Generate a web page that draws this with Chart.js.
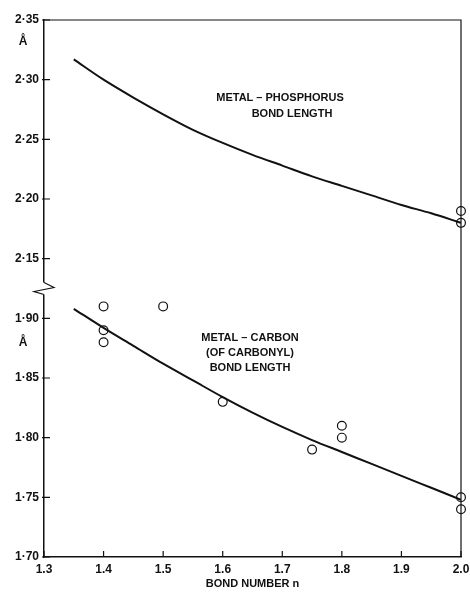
<!DOCTYPE html>
<html>
<head>
<meta charset="utf-8">
<script src="https://cdn.jsdelivr.net/npm/chart.js@4.4.1/dist/chart.umd.min.js"></script>
<style>
  html, body { margin: 0; padding: 0; background: #fff; }
  #wrap { width: 470px; height: 597px; position: relative; }
</style>
</head>
<body>
<div id="wrap"><canvas id="chart"></canvas></div>
<script>
// bond number n along the fitted curves
const curveN = [1.35, 1.4, 1.45, 1.5, 1.55, 1.6, 1.65, 1.7, 1.75, 1.8, 1.85, 1.9, 1.95, 2.0];
const phosphorusCurve = [2.317, 2.300, 2.285, 2.271, 2.258, 2.247, 2.237, 2.228, 2.219, 2.211, 2.203, 2.195, 2.188, 2.180];
const carbonCurve = [1.908, 1.892, 1.877, 1.862, 1.848, 1.834, 1.821, 1.809, 1.798, 1.788, 1.778, 1.768, 1.758, 1.748];

// observed bond lengths (open circles)
const phosphorusObsN = [2.0, 2.0];
const phosphorusObs = [2.19, 2.18];
const carbonObsN = [1.4, 1.4, 1.4, 1.5, 1.6, 1.75, 1.8, 1.8, 2.0, 2.0];
const carbonObs = [1.91, 1.89, 1.88, 1.91, 1.83, 1.79, 1.81, 1.80, 1.75, 1.74];

const xTicks = [1.3, 1.4, 1.5, 1.6, 1.7, 1.8, 1.9, 2.0];
const lowerYTicks = [1.70, 1.75, 1.80, 1.85, 1.90];
const upperYTicks = [2.15, 2.20, 2.25, 2.30, 2.35];

// the y axis is broken: upper panel values are shifted down by this amount
const BREAK_SHIFT = 0.20;
const BREAK_AT = 1.925;

const FONT = "'Liberation Sans', Arial, sans-serif";
const INK = "#111";

const toPts = (xs, ys, shift) => xs.map((x, i) => ({ x: x, y: ys[i] - shift }));

function yLabel(v) {
  const real = v > BREAK_AT ? v + BREAK_SHIFT : v;
  return real.toFixed(2).replace(".", "\u00b7");
}

const decor = {
  id: "decor",
  afterDraw(chart) {
    const { ctx, chartArea: a, scales } = chart;
    const xs = scales.x, ys = scales.y;
    ctx.save();
    ctx.strokeStyle = INK;
    ctx.lineWidth = 1.2;

    // top and right frame
    ctx.beginPath();
    ctx.moveTo(a.left, a.top);
    ctx.lineTo(a.right, a.top);
    ctx.lineTo(a.right, a.bottom);
    ctx.stroke();

    // inward ticks
    ctx.beginPath();
    xTicks.forEach((t) => {
      const px = xs.getPixelForValue(t);
      ctx.moveTo(px, a.bottom);
      ctx.lineTo(px, a.bottom - 6);
    });
    lowerYTicks.forEach((t) => {
      const py = ys.getPixelForValue(t);
      ctx.moveTo(a.left - 2, py);
      ctx.lineTo(a.left + 6, py);
    });
    upperYTicks.forEach((t) => {
      const py = ys.getPixelForValue(t - BREAK_SHIFT);
      ctx.moveTo(a.left - 2, py);
      ctx.lineTo(a.left + 6, py);
    });
    ctx.stroke();

    // axis break zigzag
    const by = ys.getPixelForValue(BREAK_AT);
    ctx.fillStyle = "#fff";
    ctx.fillRect(a.left - 3, by - 6, 6, 12);
    ctx.beginPath();
    ctx.moveTo(a.left, by - 6);
    ctx.lineTo(a.left + 10, by - 1);
    ctx.lineTo(a.left - 10, by + 3);
    ctx.lineTo(a.left, by + 6);
    ctx.stroke();

    // unit labels and panel annotations
    ctx.fillStyle = INK;
    ctx.textAlign = "center";
    ctx.textBaseline = "middle";
    ctx.font = "bold 12px " + FONT;
    ctx.fillText("\u00c5", 23, ys.getPixelForValue(upperYTicks[4] - BREAK_SHIFT) + 22);
    ctx.fillText("\u00c5", 23, ys.getPixelForValue(lowerYTicks[4]) + 24);

    ctx.font = "bold 11px " + FONT;
    ctx.fillText("METAL \u2013 PHOSPHORUS", 280, 98);
    ctx.fillText("BOND LENGTH", 292, 114);
    ctx.fillText("METAL \u2013 CARBON", 250, 338);
    ctx.fillText("(OF CARBONYL)", 250, 353);
    ctx.fillText("BOND LENGTH", 250, 368);
    ctx.restore();
  },
};

const circleStyle = {
  showLine: false,
  pointStyle: "circle",
  pointRadius: 4.4,
  pointHoverRadius: 4.4,
  pointBackgroundColor: "#fff",
  pointBorderColor: INK,
  pointBorderWidth: 1.2,
  clip: false,
};

const curveStyle = {
  showLine: true,
  borderColor: INK,
  borderWidth: 2,
  pointRadius: 0,
  cubicInterpolationMode: "monotone",
  fill: false,
};

new Chart(document.getElementById("chart"), {
  type: "scatter",
  data: {
    datasets: [
      { label: "Metal-phosphorus curve", data: toPts(curveN, phosphorusCurve, BREAK_SHIFT), ...curveStyle },
      { label: "Metal-carbon curve", data: toPts(curveN, carbonCurve, 0), ...curveStyle },
      { label: "Metal-phosphorus observed", data: toPts(phosphorusObsN, phosphorusObs, BREAK_SHIFT), ...circleStyle },
      { label: "Metal-carbon observed", data: toPts(carbonObsN, carbonObs, 0), ...circleStyle },
    ],
  },
  options: {
    responsive: true,
    maintainAspectRatio: false,
    animation: false,
    layout: { padding: { top: 20, right: 9, left: 0, bottom: 0 } },
    plugins: { legend: { display: false }, tooltip: { enabled: false } },
    scales: {
      x: {
        type: "linear",
        min: 1.3,
        max: 2.0,
        afterFit: (s) => { s.height = 40; s.paddingLeft = 0; s.paddingRight = 0; },
        afterBuildTicks: (s) => { s.ticks = xTicks.map((v) => ({ value: v })); },
        grid: { drawOnChartArea: false, drawTicks: false },
        border: { color: INK, width: 1.5 },
        ticks: {
          padding: 5,
          color: INK,
          font: { family: FONT, size: 12, weight: "bold" },
          callback: (v) => Number(v).toFixed(1),
        },
        title: {
          display: true,
          text: "BOND NUMBER n",
          color: INK,
          padding: { top: 0, bottom: 6 },
          font: { family: FONT, size: 11, weight: "bold" },
        },
      },
      y: {
        type: "linear",
        min: 1.70,
        max: 2.15,
        afterFit: (s) => { s.width = 44; s.paddingTop = 0; s.paddingBottom = 0; },
        afterBuildTicks: (s) => {
          const vals = lowerYTicks.concat(upperYTicks.map((v) => v - BREAK_SHIFT));
          s.ticks = vals.map((v) => ({ value: v }));
        },
        grid: { drawOnChartArea: false, drawTicks: false },
        border: { color: INK, width: 1.5 },
        ticks: {
          padding: 5,
          color: INK,
          font: { family: FONT, size: 12, weight: "bold" },
          callback: (v) => yLabel(v),
        },
      },
    },
  },
  plugins: [decor],
});
</script>
</body>
</html>
